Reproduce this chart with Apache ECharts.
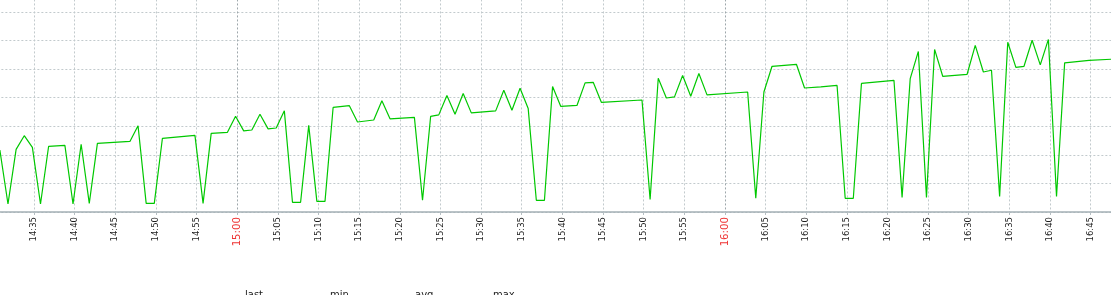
<!DOCTYPE html>
<html>
<head>
<meta charset="utf-8">
<script src="https://cdn.jsdelivr.net/npm/echarts@6/dist/echarts.min.js"></script>
<style>
html,body{margin:0;padding:0;background:#fff;}
#chart{width:1111px;height:295px;}
</style>
</head>
<body>
<div id="chart"></div>
<script>
// sample times (HH:MM:SS) of the line's vertices
const times = [
 '14:30:48','14:31:48','14:32:48','14:33:48','14:34:48','14:35:48','14:36:48','14:38:48','14:39:48','14:40:48',
 '14:41:48','14:42:48','14:46:48','14:47:48','14:48:48','14:49:48','14:50:48','14:54:48','14:55:48','14:56:48',
 '14:58:48','14:59:48','15:00:48','15:01:48','15:02:48','15:03:48','15:04:48','15:05:48','15:06:48','15:07:48',
 '15:08:48','15:09:48','15:10:48','15:11:48','15:13:48','15:14:48','15:16:48','15:17:48','15:18:48','15:21:48',
 '15:22:48','15:23:48','15:24:48','15:25:48','15:26:48','15:27:48','15:28:48','15:31:48','15:32:48','15:33:48',
 '15:34:48','15:35:48','15:36:48','15:37:48','15:38:48','15:39:48','15:41:48','15:42:48','15:43:48','15:44:48',
 '15:49:48','15:50:48','15:51:48','15:52:48','15:53:48','15:54:48','15:55:48','15:56:48','15:57:48','16:02:48',
 '16:03:48','16:04:48','16:05:48','16:08:48','16:09:48','16:11:48','16:13:48','16:14:48','16:15:48','16:16:48',
 '16:20:48','16:21:48','16:22:48','16:23:48','16:24:48','16:25:48','16:26:48','16:29:48','16:30:48','16:31:48',
 '16:32:48','16:33:48','16:34:48','16:35:48','16:36:48','16:37:48','16:38:48','16:39:48','16:40:48','16:41:48',
 '16:44:48','16:47:48'
];
const values = [
 21.7, 2.8,21.9,26.7,22.6, 2.8,23.0,23.3, 2.8,23.7,
  3.0,24.0,24.7,30.2, 3.0, 3.0,25.8,26.8, 3.0,27.5,
 27.9,33.5,28.4,28.7,34.2,29.1,29.4,35.4, 3.4, 3.4,
 30.3, 3.7, 3.7,36.6,37.2,31.5,32.2,38.9,32.6,33.1,
  4.1,33.5,34.0,40.8,34.2,41.5,34.7,35.4,42.6,35.6,
 43.3,36.2, 4.1, 4.1,43.9,37.0,37.3,45.2,45.4,38.4,
 39.2, 4.4,46.8,39.9,40.3,47.8,40.5,48.5,41.0,42.0,
  4.8,42.0,51.0,51.7,43.4,43.8,44.3, 4.8, 4.8,45.0,
 46.1, 5.1,46.7,56.2, 5.1,56.9,47.5,48.2,58.3,49.0,
 49.6, 5.4,59.4,50.6,51.0,60.1,51.5,60.4, 5.4,52.2,
 53.1,53.5
];
const legendLabels = ['last', 'min', 'avg', 'max'];

function toMinutes(s) {
  const p = s.split(':').map(Number);
  return p[0] * 60 + p[1] + (p[2] || 0) / 60;
}
function fmt(v) {
  const h = Math.floor(v / 60), m = Math.round(v - h * 60);
  return h + ':' + (m < 10 ? '0' : '') + m;
}
const data = times.map((t, i) => [toMinutes(t), values[i]]);

const gridColors = [];
for (let i = 0; i < 12; i++) gridColors.push(i === 6 ? '#9ea7ab' : '#c2cacd');

const chart = echarts.init(document.getElementById('chart'), null, {renderer: 'canvas'});
chart.setOption({
  animation: false,
  backgroundColor: '#ffffff',
  grid: {left: -6.64, right: -20.3, top: -16.57, bottom: 83, containLabel: false, outerBoundsMode: 'none'},
  xAxis: {
    type: 'value',
    min: 870, max: 1010, interval: 5,
    axisLine: {show: true, lineStyle: {color: '#a3afb5', width: 1.5}},
    axisTick: {show: true, length: 3, lineStyle: {color: '#b5bec2'}},
    splitLine: {show: true, lineStyle: {color: gridColors, type: [2, 2], width: 1}},
    axisLabel: {
      rotate: 90, margin: 5,
      fontFamily: 'DejaVu Sans', fontSize: 8.5, color: '#1e1e1e',
      formatter: function (v) {
        const s = fmt(v);
        return (Math.round(v) % 60 === 0) ? '{red|' + s + '}' : s;
      },
      rich: {red: {color: '#ee3333', fontSize: 10.2, fontFamily: 'DejaVu Sans'}}
    }
  },
  yAxis: {
    type: 'value', min: 0, max: 80, interval: 10,
    axisLine: {show: false}, axisTick: {show: false}, axisLabel: {show: false},
    splitLine: {show: true, lineStyle: {color: '#c2cacd', type: [2, 2], width: 1}}
  },
  series: [{
    type: 'line',
    data: data,
    showSymbol: false,
    symbol: 'none',
    lineStyle: {color: '#00c800', width: 1.2},
    clip: true
  }],
  graphic: legendLabels.map((t, i) => ({
    type: 'text', left: [245, 330, 415, 493][i], top: 290,
    style: {text: t, fontFamily: 'DejaVu Sans', fontSize: 10, fill: '#222'}
  }))
});
</script>
</body>
</html>
